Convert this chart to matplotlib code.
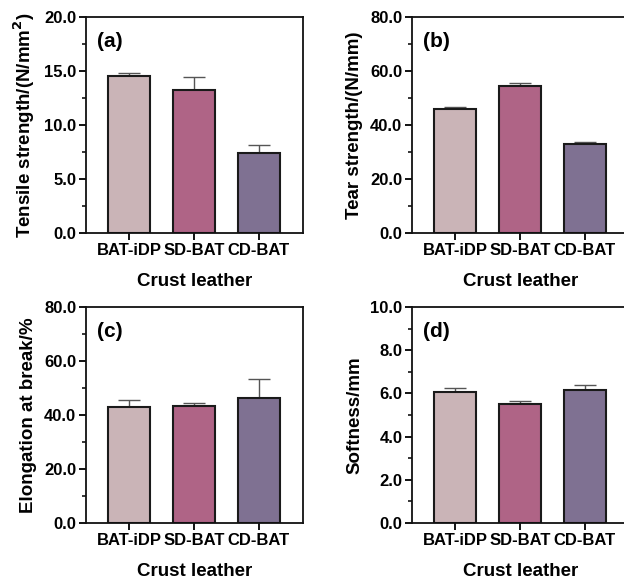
import matplotlib.pyplot as plt
from matplotlib.ticker import MultipleLocator, FormatStrFormatter

plt.rcParams['font.family'] = ['Liberation Sans', 'DejaVu Sans']
plt.rcParams['font.weight'] = 'bold'

groups = ['BAT-iDP', 'SD-BAT', 'CD-BAT']
colors = ['#CAB4B7', '#AF6486', '#7F7192']

tensile = [14.55, 13.25, 7.45]
tensile_err = [0.3, 1.15, 0.7]
tear = [46.1, 54.3, 33.1]
tear_err = [0.5, 1.2, 0.7]
elong = [42.8, 43.4, 46.2]
elong_err = [2.9, 1.0, 7.1]
soft = [6.08, 5.5, 6.15]
soft_err = [0.17, 0.14, 0.25]

panels = [
    ('(a)', tensile, tensile_err, 'Tensile strength/(N/mm$^\\mathbf{2}$)', 20, 5),
    ('(b)', tear, tear_err, 'Tear strength/(N/mm)', 80, 20),
    ('(c)', elong, elong_err, 'Elongation at break/%', 80, 20),
    ('(d)', soft, soft_err, 'Softness/mm', 10, 2),
]

fig = plt.figure(figsize=(6.24, 5.81), dpi=100)
W, H = 624, 581
# axes boxes in pixels: left, top, width, height
boxes = [(86, 17, 217, 216), (412, 17, 217, 216),
         (86, 307, 217, 216), (412, 307, 217, 216)]

for (lab, vals, errs, ylab, ymax, step), (l, t, w, h) in zip(panels, boxes):
    ax = fig.add_axes([l / W, 1 - (t + h) / H, w / W, h / H])
    x = range(len(groups))
    ax.bar(x, vals, width=0.64, color=colors, edgecolor='#1a1a1a', linewidth=1.5, zorder=2)
    ax.errorbar(x, vals, yerr=[[0] * 3, errs], fmt='none', ecolor='#555555',
                elinewidth=1.0, capsize=8, capthick=1.0, zorder=1)
    ax.set_xlim(-0.66, 2.68)
    ax.set_ylim(0, ymax)
    ax.yaxis.set_major_locator(MultipleLocator(step))
    ax.yaxis.set_minor_locator(MultipleLocator(step / 2))
    ax.yaxis.set_major_formatter(FormatStrFormatter('%.1f'))
    ax.set_xticks(list(x))
    ax.set_xticklabels(groups)
    for s in ax.spines.values():
        s.set_linewidth(1.3)
        s.set_color('#111111')
    ax.tick_params(axis='both', which='major', length=5, width=1.3, labelsize=12, pad=2)
    ax.tick_params(axis='y', which='minor', length=3, width=1.1)
    ax.set_ylabel(ylab, fontsize=13.5, fontweight='bold', labelpad=5)
    ax.set_xlabel('Crust leather', fontsize=13.5, fontweight='bold', labelpad=11)
    ax.text(0.05, 0.93, lab, transform=ax.transAxes, fontsize=15,
            fontweight='bold', va='top', ha='left')

fig.savefig('out.png', dpi=100)
